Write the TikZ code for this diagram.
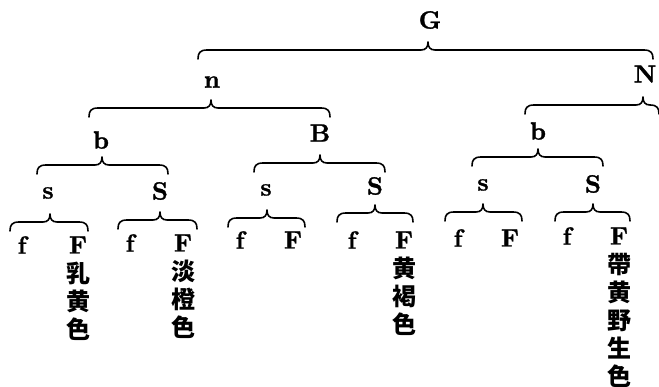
\documentclass[tikz,border=0pt]{standalone}
\usepackage{fontspec}
\usepackage{tikz}
\usetikzlibrary{positioning}
\newfontfamily\cjk{Noto Sans CJK JP}
\newfontfamily\lat{lmroman10-bold.otf}[FakeBold=1.2]

\tikzset{
  lbl/.style={font=\fontsize{25}{28}\selectfont\lat, inner sep=1pt},
  hanzi/.style={font=\fontsize{24}{28}\selectfont\cjk\bfseries, align=center, inner sep=0pt},
  brc/.style={line width=1.6pt, line cap=round, line join=round}
}
% left end, tip, right end, height of the bar
\newcommand\brk[4]{%
  \draw[brc] (#1,#4+9) .. controls (#1,#4+3) and (#1+2,#4) .. (#1+9,#4)
    -- (#2-7,#4) .. controls (#2-2,#4) and (#2,#4-3) .. (#2,#4-8)
    .. controls (#2,#4-3) and (#2+2,#4) .. (#2+7,#4)
    -- (#3-9,#4) .. controls (#3-2,#4) and (#3,#4+3) .. (#3,#4+9);}

\begin{document}
\begin{tikzpicture}[x=1pt,y=-1pt]
        \useasboundingbox (0,0) rectangle (659,387);
        \node[lbl] (G) at (430,20) {G};
        \node[lbl] (n) at (212,82) {n};
        \node[lbl] (N) at (645,74) {N};
        \node[lbl] (bl) at (101,140) {b};
        \node[lbl] (B) at (320,133) {B};
        \node[lbl] (br) at (538,131) {b};
        \node[lbl] (s1) at (48,193) {s};
        \node[lbl] (S1) at (160,191) {S};
        \node[lbl] (s2) at (266,190) {s};
        \node[lbl] (S2) at (375,186) {S};
        \node[lbl] (s3) at (483,185) {s};
        \node[lbl] (S3) at (593,184) {S};
        \node[lbl] (f1) at (22,245) {f};
        \node[lbl] (F1) at (78,245) {F};
        \node[lbl] (f2) at (130,243) {f};
        \node[lbl] (F2) at (183,243) {F};
        \node[lbl] (f3) at (240,240) {f};
        \node[lbl] (F3) at (293,240) {F};
        \node[lbl] (f4) at (352,240) {f};
        \node[lbl] (F4) at (404,240) {F};
        \node[lbl] (f5) at (458,238) {f};
        \node[lbl] (F5) at (510,238) {F};
        \node[lbl] (f6) at (567,236) {f};
        \node[lbl] (F6) at (619,236) {F};
        \node[hanzi, below=7pt of F1] (c1) {乳\\黄\\色};
        \node[hanzi, below=7pt of F2] (c2) {淡\\橙\\色};
        \node[hanzi, below=7pt of F4] (c4) {黄\\褐\\色};
        \node[hanzi, below=7pt of F6] (c6) {帶\\黄\\野\\生\\色};
        \brk{198}{428}{653}{50}
        \brk{89}{211}{330}{108}
        \brk{525}{643}{659}{105}
        \brk{37}{102}{168}{165}
        \brk{254}{320}{385}{163}
        \brk{472}{538}{603}{157}
        \brk{10}{50}{88}{222}
        \brk{118}{160}{197}{220}
        \brk{228}{267}{305}{218}
        \brk{337}{375}{413}{213}
        \brk{445}{483}{522}{212}
        \brk{555}{593}{630}{212}
      \end{tikzpicture}
\end{document}
